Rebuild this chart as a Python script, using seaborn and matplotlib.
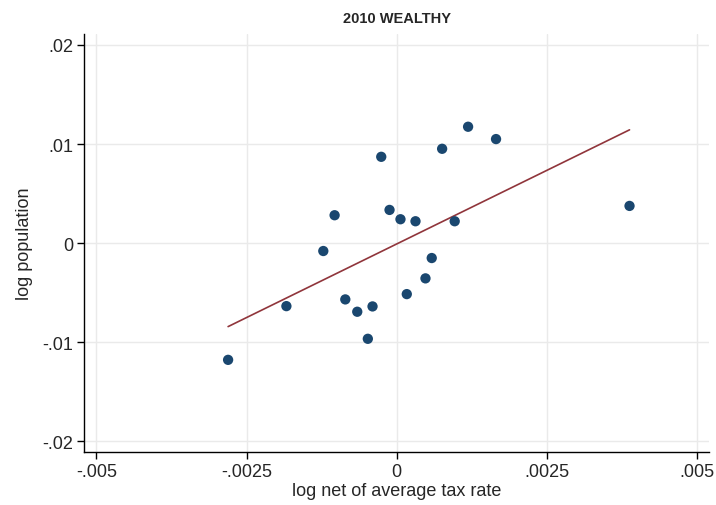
import numpy as np
import pandas as pd
import matplotlib
matplotlib.use("Agg")
import matplotlib.pyplot as plt
import seaborn as sns

# values
tax_rate = [-0.002807, -0.001837, -0.001223, -0.001035, -0.000857, -0.000658,
            -0.000482, -0.000404, -0.000259, -0.000121, 0.000061, 0.000311,
            0.000166, 0.000477, 0.000581, 0.000754, 0.000963, 0.001186,
            0.001651, 0.003872]
population = [-0.011775, -0.006355, -0.000794, 0.002816, -0.005677, -0.006921,
              -0.009651, -0.006385, 0.008711, 0.003352, 0.002412, 0.002209,
              -0.005142, -0.003554, -0.001502, 0.009520, 0.002209, 0.011744,
              0.010500, 0.003756]

x_ticks = [-0.005, -0.0025, 0, 0.0025, 0.005]
x_labels = ['-.005', '-.0025', '0', '.0025', '.005']
y_ticks = [-0.02, -0.01, 0, 0.01, 0.02]
y_labels = ['-.02', '-.01', '0', '.01', '.02']

data = pd.DataFrame({'tax': tax_rate, 'pop': population})

sns.set_style("white")
plt.rcParams['font.family'] = ['Liberation Sans', 'DejaVu Sans']

fig = plt.figure(figsize=(7.16, 5.06), dpi=100)
ax = fig.add_axes([0.1177, 0.1042, 0.873, 0.8266])

sns.regplot(data=data, x='tax', y='pop', ci=None, ax=ax,
            scatter_kws={'s': 55, 'color': '#1a476f', 'alpha': 1,
                         'edgecolor': 'none', 'zorder': 3},
            line_kws={'color': '#90353b', 'lw': 1.2, 'zorder': 2})

ax.set_xlim(-0.0052, 0.0052)
ax.set_ylim(-0.0211, 0.0211)
ax.set_xticks(x_ticks)
ax.set_xticklabels(x_labels)
ax.set_yticks(y_ticks)
ax.set_yticklabels(y_labels)
ax.grid(True, color='#eaeaea', lw=1)
ax.set_axisbelow(True)

for s in ['top', 'right']:
    ax.spines[s].set_visible(False)
for s in ['left', 'bottom']:
    ax.spines[s].set_color('black')
    ax.spines[s].set_linewidth(1)

ax.tick_params(axis='both', direction='out', length=5, width=1,
               color='black', labelsize=13, pad=3, left=True, bottom=True)
ax.set_xlabel('log net of average tax rate', fontsize=13, labelpad=1)
ax.set_ylabel('log population', fontsize=13, labelpad=7)
ax.set_title('2010 WEALTHY', fontsize=10.5, fontweight='bold', pad=9)

fig.savefig('out.png', dpi=100)
